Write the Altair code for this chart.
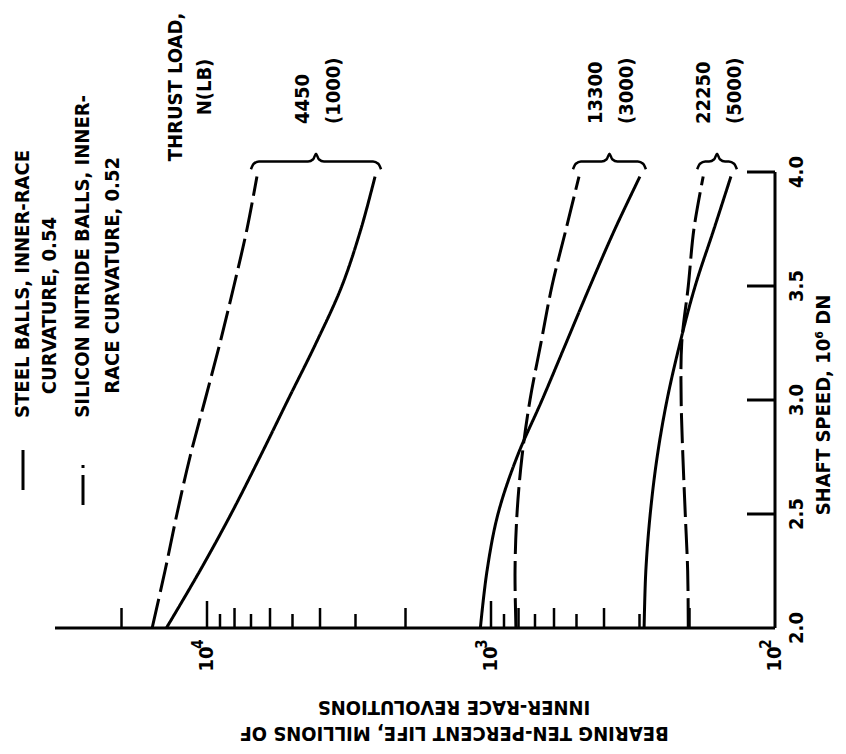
import math
import altair as alt
import pandas as pd

# ---------------- data ----------------
speed = [2.0, 2.25, 2.5, 2.75, 3.0, 3.25, 3.5, 3.75, 3.98]   # shaft speed, 10^6 DN

steel_4450 = [13900, 10600, 8230, 6510, 5190, 4130, 3350, 2870, 2560]
si3n4_4450 = [15600, 14060, 12760, 11480, 10160, 9000, 8040, 7230, 6670]
steel_13300 = [1090, 1033, 945, 810, 661, 544, 448, 366, 299]
si3n4_13300 = [817, 823, 810, 778, 729, 667, 610, 544, 490]
steel_22250 = [289, 285, 275, 260, 240, 216, 191, 164, 143]
si3n4_22250 = [202, 203, 207, 211, 214, 213, 202, 193, 179]

load_n = ["4450", "13300", "22250"]
load_lb = ["(1000)", "(3000)", "(5000)"]

speed_ticks = [2.0, 2.5, 3.0, 3.5, 4.0]
speed_tick_labels = ["2.0", "2.5", "3.0", "3.5", "4.0"]
life_decades = [100, 1000, 10000]
decade_exps = ["2", "3", "4"]
life_minor = [200, 300, 400, 500, 600, 700, 800, 900,
              2000, 3000, 4000, 5000, 6000, 7000, 8000, 9000, 20000]

legend_lines = ["STEEL BALLS, INNER-RACE", "CURVATURE, 0.54",
                "SILICON NITRIDE BALLS, INNER-", "RACE CURVATURE, 0.52"]
x_title = ["INNER-RACE REVOLUTIONS", "BEARING TEN-PERCENT LIFE, MILLIONS OF"]
y_title = "SHAFT SPEED, 10\u2076 DN"
load_title = ["THRUST LOAD,", "N(LB)"]

# ---------------- geometry / style ----------------
FONT = "Liberation Sans Narrow, DejaVu Sans Condensed, Arial Narrow, sans-serif"
PX_DEC = 284.0          # pixels per decade of life
PX_SPD = 228.0          # pixels per unit of shaft speed
X_100 = 775.0           # page x of life = 100
Y_2 = 628.0             # page y of speed = 2.0
X_LEFT = 55.0           # page x of left end of life axis
Y_TOP = Y_2 - 2 * PX_SPD
LIFE_MAX = 10 ** (2 + (X_100 - X_LEFT) / PX_DEC)


def life_at(px):
    return 10 ** (2 + (X_100 - px) / PX_DEC)


def speed_at(py):
    return 2 + (Y_2 - py) / PX_SPD


def life_shift(v, px):  # move a life value px pixels to the right
    return v * 10 ** (-px / PX_DEC)


X = alt.X("life:Q", axis=None,
          scale=alt.Scale(type="log", domain=[100, LIFE_MAX], nice=False,
                          range=[X_100 - 8, X_LEFT - 8]))
Y = alt.Y("s:Q", axis=None,
          scale=alt.Scale(domain=[2, 4], nice=False, zero=False,
                          range=[Y_2 - 8, Y_TOP - 8]))

DASH = alt.StrokeDash("ball:N", legend=None,
                      scale=alt.Scale(domain=["steel", "si3n4"],
                                      range=[[1, 0], [30, 7]]))

# ---------------- curves ----------------
rows = []
series = [("4450", steel_4450, si3n4_4450),
          ("13300", steel_13300, si3n4_13300),
          ("22250", steel_22250, si3n4_22250)]
for load, st, si in series:
    for i, s in enumerate(speed):
        rows.append(dict(key=load + "st", ball="steel", s=s, life=st[i]))
        rows.append(dict(key=load + "si", ball="si3n4", s=s, life=si[i]))
curves = pd.DataFrame(rows)

lines = alt.Chart(curves).mark_line(color="black", strokeWidth=3,
                                    interpolate="catmull-rom").encode(
    x=X, y=Y, detail="key:N", order="s:Q", strokeDash=DASH)

# ---------------- braces ----------------
brows = []
blabels = []
d = 8 / PX_DEC
for k, (load, st, si) in enumerate(series):
    a = math.log10(max(st[-1], si[-1])) + 6 / PX_DEC
    b = math.log10(min(st[-1], si[-1])) - 6 / PX_DEC
    m = (a + b) / 2
    pts = [(a, 4.012), (a - 0.35 * d, 4.036), (a - d, 4.046), (m + d, 4.046),
           (m + 0.35 * d, 4.056), (m, 4.08), (m - 0.35 * d, 4.056), (m - d, 4.046),
           (b + d, 4.046), (b + 0.35 * d, 4.036), (b, 4.012)]
    for j, (lx, sy) in enumerate(pts):
        brows.append(dict(key=load, i=j, life=10 ** lx, s=sy))
    cusp = 10 ** m
    blabels.append(dict(t=load_n[k], life=life_shift(cusp, -13), s=speed_at(124)))
    blabels.append(dict(t=load_lb[k], life=life_shift(cusp, 18), s=speed_at(124)))
braces = alt.Chart(pd.DataFrame(brows)).mark_line(color="black", strokeWidth=2.5,
                                                   interpolate="monotone").encode(
    x=X, y=Y, detail="key:N", order="i:Q")

# ---------------- axes ----------------
axis_df = pd.DataFrame([
    dict(life=LIFE_MAX, life2=100, s=2.0, s2=2.0),
    dict(life=100, life2=100, s=2.0, s2=4.0),
])
axes = alt.Chart(axis_df).mark_rule(color="black", strokeWidth=3).encode(
    x=X, x2="life2:Q", y=Y, y2="s2:Q")

trows = []
for v in life_decades[1:]:
    trows.append(dict(life=v, s=2.0, s2=2.0 + 27 / PX_SPD))
for v in life_minor:
    lead = int(round(v / 10 ** math.floor(math.log10(v))))
    ln = 20 if lead % 2 == 0 else 14
    trows.append(dict(life=v, s=2.0, s2=2.0 + ln / PX_SPD))
bticks = alt.Chart(pd.DataFrame(trows)).mark_rule(color="black", strokeWidth=2.5).encode(
    x=X, y=Y, y2="s2:Q")

rticks = alt.Chart(pd.DataFrame(
    [dict(life=100, life2=life_shift(100, -28), s=v) for v in speed_ticks[1:]]
)).mark_rule(color="black", strokeWidth=3).encode(x=X, x2="life2:Q", y=Y)

# ---------------- texts ----------------
def text_layer(df, align, angle, size, baseline="middle"):
    return alt.Chart(pd.DataFrame(df)).mark_text(
        align=align, baseline=baseline, angle=angle, font=FONT, fontWeight="bold",
        fontSize=size, color="black").encode(x=X, y=Y, text="t:N")

spd_lab = [dict(t=lab, life=life_at(797), s=v) for v, lab in zip(speed_ticks, speed_tick_labels)]
dec_base = [dict(t="10", life=v, s=speed_at(659)) for v in life_decades]
dec_exp = [dict(t=e, life=life_shift(v, -9), s=speed_at(644)) for v, e in zip(life_decades, decade_exps)]
ytitle = [dict(t=y_title, life=life_at(824), s=speed_at(405))]
ltitle = [dict(t=load_title[0], life=life_at(176), s=speed_at(87)),
          dict(t=load_title[1], life=life_at(205), s=speed_at(87))]
legend_txt = [dict(t=legend_lines[0], life=life_at(23), s=speed_at(150)),
              dict(t=legend_lines[1], life=life_at(50), s=speed_at(217)),
              dict(t=legend_lines[2], life=life_at(83), s=speed_at(95)),
              dict(t=legend_lines[3], life=life_at(113), s=speed_at(157))]
xtitle = [dict(t=x_title[0], life=life_at(454), s=speed_at(707)),
          dict(t=x_title[1], life=life_at(454), s=speed_at(733))]

leg_df = pd.DataFrame([
    dict(key="st", ball="steel", life=life_at(23), s=speed_at(450)),
    dict(key="st", ball="steel", life=life_at(23), s=speed_at(490)),
    dict(key="si", ball="si3n4", life=life_at(83), s=speed_at(465)),
    dict(key="si", ball="si3n4", life=life_at(83), s=speed_at(505)),
])
leg_lines = alt.Chart(leg_df).mark_line(color="black", strokeWidth=3).encode(
    x=X, y=Y, detail="key:N", order="s:Q", strokeDash=DASH)

chart = alt.layer(
    axes, bticks, rticks, lines, braces, leg_lines,
    text_layer(spd_lab, "center", 270, 20),
    text_layer(dec_base, "center", 270, 20),
    text_layer(dec_exp, "center", 270, 15),
    text_layer(ytitle, "center", 270, 20),
    text_layer(ltitle, "center", 270, 20),
    text_layer(legend_txt, "right", 270, 20),
    text_layer(blabels, "left", 270, 20),
    text_layer(xtitle, "center", 180, 20),
).properties(
    width=830, height=738,
    autosize=alt.AutoSizeParams(type="none"),
    padding=0,
).configure_view(strokeWidth=0)

chart.save("out.html", embed_options={"renderer": "svg", "actions": False})
